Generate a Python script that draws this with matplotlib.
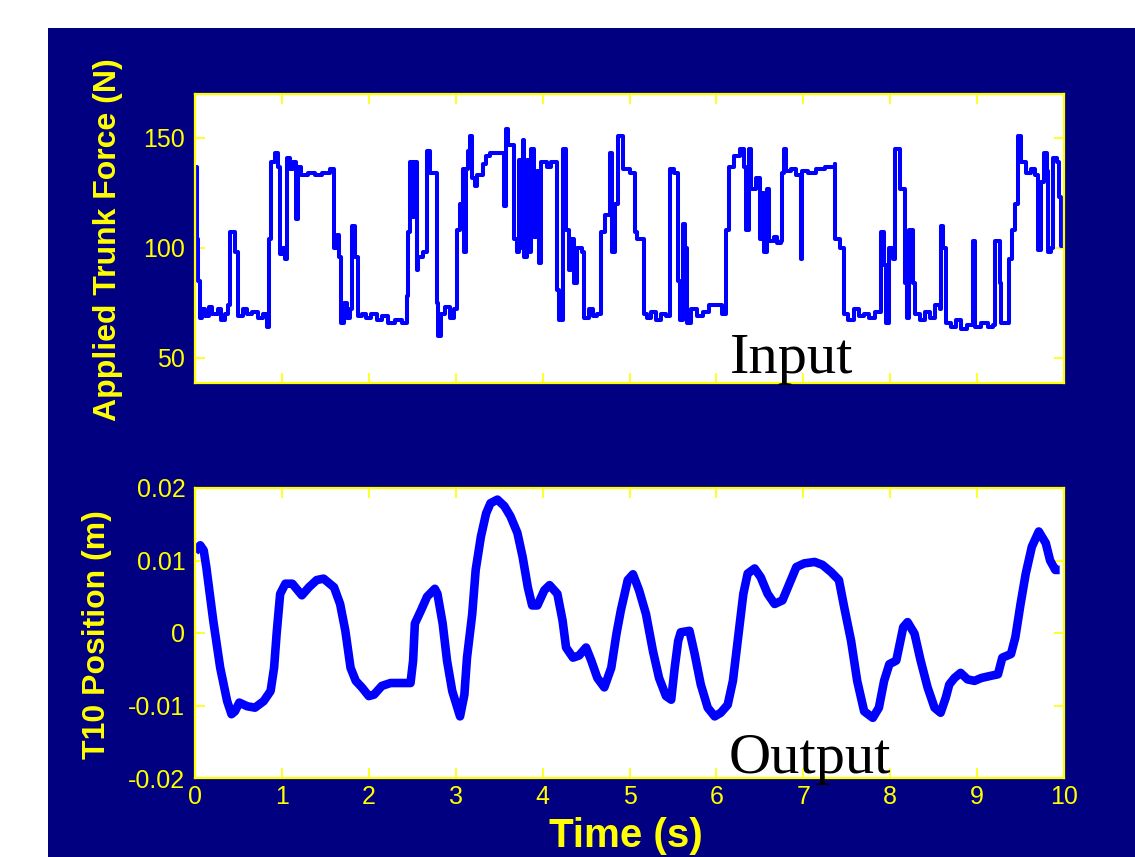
import numpy as np
import matplotlib
matplotlib.use('Agg')
import matplotlib.pyplot as plt
from matplotlib.patches import Rectangle

NAVY = '#000080'
YELLOW = '#ffff00'
BLUE = '#0000ff'

# applied force (steps): time (s), force (N)
force_t = [0.00, 0.02, 0.04, 0.06, 0.08, 0.12, 0.16, 0.20, 0.26, 0.30, 0.34, 0.38,
           0.40, 0.46, 0.49, 0.55, 0.60, 0.66, 0.72, 0.78, 0.83, 0.85, 0.87, 0.88,
           0.92, 0.96, 0.98, 1.01, 1.04, 1.06, 1.09, 1.13, 1.16, 1.18, 1.22, 1.30,
           1.38, 1.46, 1.55, 1.60, 1.63, 1.66, 1.68, 1.71, 1.75, 1.78, 1.81, 1.84,
           1.87, 1.92, 1.97, 2.03, 2.09, 2.15, 2.22, 2.30, 2.38, 2.44, 2.45, 2.47,
           2.50, 2.52, 2.55, 2.57, 2.62, 2.67, 2.70, 2.78, 2.80, 2.83, 2.88, 2.93,
           2.98, 3.02, 3.05, 3.08, 3.10, 3.12, 3.14, 3.17, 3.19, 3.22, 3.25, 3.31,
           3.35, 3.40, 3.56, 3.58, 3.60, 3.67, 3.70, 3.73, 3.75, 3.77, 3.79, 3.82,
           3.85, 3.87, 3.90, 3.93, 3.96, 3.98, 4.05, 4.10, 4.17, 4.19, 4.24, 4.27,
           4.30, 4.33, 4.36, 4.40, 4.45, 4.48, 4.53, 4.58, 4.63, 4.67, 4.72, 4.77,
           4.80, 4.83, 4.87, 4.92, 5.00, 5.06, 5.09, 5.17, 5.20, 5.25, 5.30, 5.36,
           5.42, 5.47, 5.51, 5.56, 5.58, 5.61, 5.64, 5.66, 5.71, 5.78, 5.85, 5.92,
           6.00, 6.06, 6.11, 6.15, 6.20, 6.27, 6.32, 6.34, 6.37, 6.40, 6.45, 6.50,
           6.53, 6.55, 6.58, 6.60, 6.66, 6.70, 6.74, 6.76, 6.78, 6.80, 6.86, 6.92,
           6.97, 6.99, 7.05, 7.15, 7.25, 7.36, 7.37, 7.42, 7.47, 7.52, 7.58, 7.64,
           7.70, 7.76, 7.82, 7.89, 7.93, 7.95, 7.99, 8.03, 8.05, 8.11, 8.17, 8.19,
           8.22, 8.26, 8.28, 8.34, 8.40, 8.46, 8.52, 8.57, 8.58, 8.61, 8.64, 8.70,
           8.76, 8.82, 8.88, 8.95, 8.98, 9.05, 9.12, 9.18, 9.21, 9.26, 9.28, 9.37,
           9.40, 9.44, 9.47, 9.50, 9.56, 9.62, 9.67, 9.70, 9.73, 9.77, 9.80, 9.82,
           9.85, 9.87, 9.92, 9.94, 9.97, 9.99]
force_n = [137, 104, 85, 68, 72, 69, 73, 70, 72, 67, 70, 74,
           107, 98, 69, 72, 70, 71, 68, 70, 64, 104, 118, 139,
           143, 137, 97, 100, 95, 141, 136, 139, 113, 137, 133, 134,
           133, 134, 136, 100, 106, 96, 66, 75, 68, 72, 110, 96,
           69, 70, 68, 70, 67, 69, 66, 67, 66, 78, 107, 139,
           114, 139, 90, 96, 98, 144, 134, 75, 60, 70, 73, 68,
           72, 108, 120, 136, 98, 136, 144, 151, 132, 128, 133, 138,
           142, 143, 119, 154, 147, 104, 98, 140, 100, 149, 96, 140,
           98, 145, 105, 135, 93, 139, 137, 139, 81, 67, 145, 108,
           90, 104, 84, 100, 98, 68, 72, 69, 70, 107, 115, 143,
           98, 120, 151, 136, 134, 107, 104, 70, 68, 71, 67, 70,
           69, 136, 134, 85, 67, 111, 100, 66, 72, 69, 71, 74,
           74, 70, 108, 137, 142, 145, 137, 108, 145, 127, 132, 104,
           125, 98, 127, 103, 105, 102, 103, 134, 145, 135, 136, 133,
           95, 135, 134, 136, 137, 138, 104, 100, 70, 67, 72, 69,
           70, 68, 71, 107, 92, 66, 100, 95, 145, 127, 84, 68,
           108, 84, 70, 67, 71, 68, 74, 72, 110, 100, 66, 64,
           67, 63, 65, 103, 64, 66, 64, 65, 103, 84, 66, 95,
           108, 120, 151, 139, 134, 136, 133, 99, 130, 143, 135, 98,
           100, 141, 139, 123, 101, 101]

# T10 position: time (s), position (m)
pos_t = [0.00, 0.04, 0.06, 0.10, 0.13, 0.21, 0.29, 0.37, 0.42, 0.46, 0.51, 0.60,
         0.69, 0.79, 0.87, 0.91, 0.94, 0.98, 1.04, 1.12, 1.23, 1.31, 1.40, 1.48,
         1.60, 1.67, 1.73, 1.79, 1.85, 1.92, 2.00, 2.06, 2.15, 2.25, 2.48, 2.51,
         2.53, 2.60, 2.67, 2.76, 2.79, 2.85, 2.90, 2.96, 3.05, 3.10, 3.13, 3.19,
         3.23, 3.29, 3.35, 3.40, 3.48, 3.56, 3.63, 3.71, 3.77, 3.83, 3.88, 3.94,
         4.02, 4.08, 4.17, 4.23, 4.27, 4.35, 4.42, 4.50, 4.56, 4.63, 4.71, 4.79,
         4.85, 4.90, 4.98, 5.04, 5.11, 5.19, 5.27, 5.34, 5.42, 5.48, 5.52, 5.56,
         5.59, 5.69, 5.75, 5.82, 5.90, 5.98, 6.05, 6.13, 6.19, 6.25, 6.31, 6.36,
         6.44, 6.51, 6.59, 6.67, 6.76, 6.84, 6.92, 7.01, 7.13, 7.22, 7.32, 7.41,
         7.47, 7.55, 7.62, 7.70, 7.80, 7.87, 7.93, 7.99, 8.07, 8.15, 8.20, 8.28,
         8.35, 8.43, 8.51, 8.58, 8.64, 8.68, 8.74, 8.81, 8.89, 8.97, 9.05, 9.16,
         9.24, 9.29, 9.39, 9.44, 9.50, 9.56, 9.63, 9.71, 9.79, 9.84, 9.90, 9.95]
pos_m = [0.0112, 0.0118, 0.0121, 0.0114, 0.0091, 0.0017, -0.0048, -0.0094, -0.0112, -0.0108, -0.0096, -0.0101,
         -0.0103, -0.0094, -0.0080, -0.0048, 0.0000, 0.0054, 0.0068, 0.0068, 0.0052, 0.0063, 0.0073, 0.0075,
         0.0063, 0.0040, 0.0003, -0.0048, -0.0066, -0.0075, -0.0087, -0.0085, -0.0073, -0.0069, -0.0069, -0.0038,
         0.0013, 0.0031, 0.0050, 0.0061, 0.0054, 0.0013, -0.0038, -0.0080, -0.0115, -0.0085, -0.0034, 0.0026,
         0.0087, 0.0133, 0.0165, 0.0179, 0.0184, 0.0175, 0.0161, 0.0138, 0.0105, 0.0063, 0.0038, 0.0038,
         0.0059, 0.0066, 0.0054, 0.0017, -0.0020, -0.0034, -0.0031, -0.0020, -0.0038, -0.0062, -0.0075, -0.0048,
         -0.0001, 0.0031, 0.0073, 0.0081, 0.0059, 0.0026, -0.0025, -0.0062, -0.0087, -0.0092, -0.0048, -0.0011,
         0.0001, 0.0003, -0.0029, -0.0071, -0.0103, -0.0115, -0.0110, -0.0099, -0.0066, -0.0006, 0.0054, 0.0082,
         0.0089, 0.0077, 0.0054, 0.0040, 0.0045, 0.0068, 0.0091, 0.0096, 0.0098, 0.0094, 0.0084, 0.0073,
         0.0036, -0.0011, -0.0066, -0.0108, -0.0117, -0.0103, -0.0066, -0.0043, -0.0038, 0.0008, 0.0015, -0.0001,
         -0.0038, -0.0075, -0.0103, -0.0110, -0.0089, -0.0071, -0.0062, -0.0055, -0.0064, -0.0066, -0.0062, -0.0059,
         -0.0057, -0.0034, -0.0029, -0.0006, 0.0040, 0.0082, 0.0119, 0.0140, 0.0124, 0.0100, 0.0087, 0.0087]

x_ticks = list(range(0, 11))
force_ticks = [50, 100, 150]
pos_ticks = [-0.02, -0.01, 0, 0.01, 0.02]
pos_tick_labels = ['-0.02', '-0.01', '0', '0.01', '0.02']

plt.rcParams['font.family'] = ['Liberation Sans', 'DejaVu Sans']

W, H = 1135, 857
fig = plt.figure(figsize=(W / 100, H / 100), dpi=100, facecolor='white')
# navy panel behind the axes
fig.add_artist(Rectangle((48 / W, 0), 1 - 48 / W, 1 - 28 / H,
                         transform=fig.transFigure, facecolor=NAVY,
                         edgecolor='none', zorder=-10))


def style_axes(ax):
    ax.set_facecolor('white')
    for sp in ax.spines.values():
        sp.set_color(YELLOW)
        sp.set_linewidth(1.6)
    ax.tick_params(direction='in', length=7, width=1.2, color=YELLOW,
                   labelcolor=YELLOW, labelsize=18, pad=7,
                   top=True, right=True)
    ax.set_xlim(0, 10)
    ax.set_xticks(x_ticks)


ax1 = fig.add_axes([195 / W, 1 - 383 / H, 869 / W, 289 / H])
style_axes(ax1)
ax1.plot(force_t, force_n, color=BLUE, lw=2.9, drawstyle='steps-post')
ax1.set_ylim(38.5, 170)
ax1.set_yticks(force_ticks)
ax1.set_xticklabels([])
ax1.text(0.6156, 0.035, 'Input', transform=ax1.transAxes, va='baseline',
         ha='left', fontsize=42, family='Liberation Serif', color='black')

ax2 = fig.add_axes([195 / W, 1 - 778 / H, 869 / W, 290 / H])
style_axes(ax2)
ax2.plot(pos_t, pos_m, color=BLUE, lw=6.2, solid_capstyle='butt')
ax2.set_ylim(-0.02, 0.02)
ax2.set_yticks(pos_ticks, pos_tick_labels)
ax2.tick_params(axis='x', pad=5)
ax2.text(0.6145, 0.017, 'Output', transform=ax2.transAxes, va='baseline',
         ha='left', fontsize=42, family='Liberation Serif', color='black')

fig.text(108 / W, 1 - 240 / H, 'Applied Trunk Force (N)', rotation=90,
         ha='center', va='center', fontsize=23, fontweight='bold', color=YELLOW)
fig.text(97 / W, 1 - 635 / H, 'T10 Position (m)', rotation=90,
         ha='center', va='center', fontsize=23, fontweight='bold', color=YELLOW)
fig.text(626 / W, 10 / H, 'Time (s)', ha='center', va='baseline',
         fontsize=29, fontweight='bold', color=YELLOW)

fig.savefig('out.png', dpi=100, facecolor='white')
